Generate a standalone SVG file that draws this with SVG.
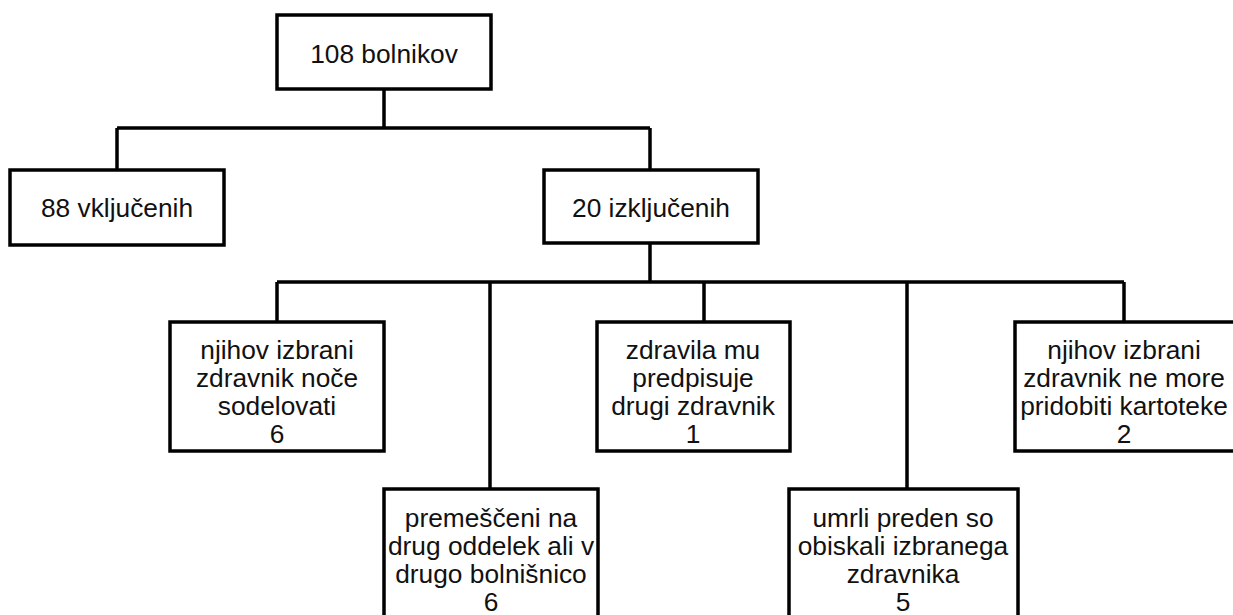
<svg xmlns="http://www.w3.org/2000/svg" width="1233" height="615" viewBox="0 0 1233 615">
<style>
.box{fill:#fff;stroke:#000;stroke-width:3.5}
.c{fill:none;stroke:#000;stroke-width:3.5}
text{font-family:"Liberation Sans",Arial,sans-serif;font-size:26.3px;fill:#111;text-anchor:middle}
</style>
<rect width="1233" height="615" fill="#fff"/>
<g id="connectors">
<path class="c" d="M384,89 V128 M117,128 H650 M117,128 V170 M650,128 V170"/>
<path class="c" d="M650,243 V282 M277,282 H1124 M277,282 V322 M490,282 V489 M704,282 V322 M907,282 V489 M1124,282 V322"/>
</g>
<g id="n-root"><rect class="box" x="277" y="15" width="214" height="74"/><text x="384" y="63">108 bolnikov</text></g>
<g id="n-incl"><rect class="box" x="10" y="170" width="214" height="75"/><text x="117" y="217">88 vključenih</text></g>
<g id="n-excl"><rect class="box" x="544" y="170" width="214" height="73"/><text x="651" y="217">20 izključenih</text></g>
<g id="n-a"><rect class="box" x="170" y="322" width="214" height="129"/>
<text x="277" y="359">njihov izbrani</text><text x="277" y="387">zdravnik noče</text><text x="277" y="415">sodelovati</text><text x="277" y="443">6</text></g>
<g id="n-b"><rect class="box" x="384" y="489" width="214" height="140"/>
<text x="491" y="527">premeščeni na</text><text x="491" y="555">drug oddelek ali v</text><text x="491" y="583">drugo bolnišnico</text><text x="491" y="611">6</text></g>
<g id="n-c"><rect class="box" x="597" y="322" width="193" height="129"/>
<text x="693" y="359">zdravila mu</text><text x="693" y="387">predpisuje</text><text x="693" y="415">drugi zdravnik</text><text x="693" y="443">1</text></g>
<g id="n-d"><rect class="box" x="789" y="489" width="229" height="140"/>
<text x="903" y="527">umrli preden so</text><text x="903" y="555">obiskali izbranega</text><text x="903" y="583">zdravnika</text><text x="903" y="611">5</text></g>
<g id="n-e"><rect class="box" x="1015" y="322" width="230" height="129"/>
<text x="1124" y="359">njihov izbrani</text><text x="1124" y="387">zdravnik ne more</text><text x="1124" y="415">pridobiti kartoteke</text><text x="1124" y="443">2</text></g>
</svg>
